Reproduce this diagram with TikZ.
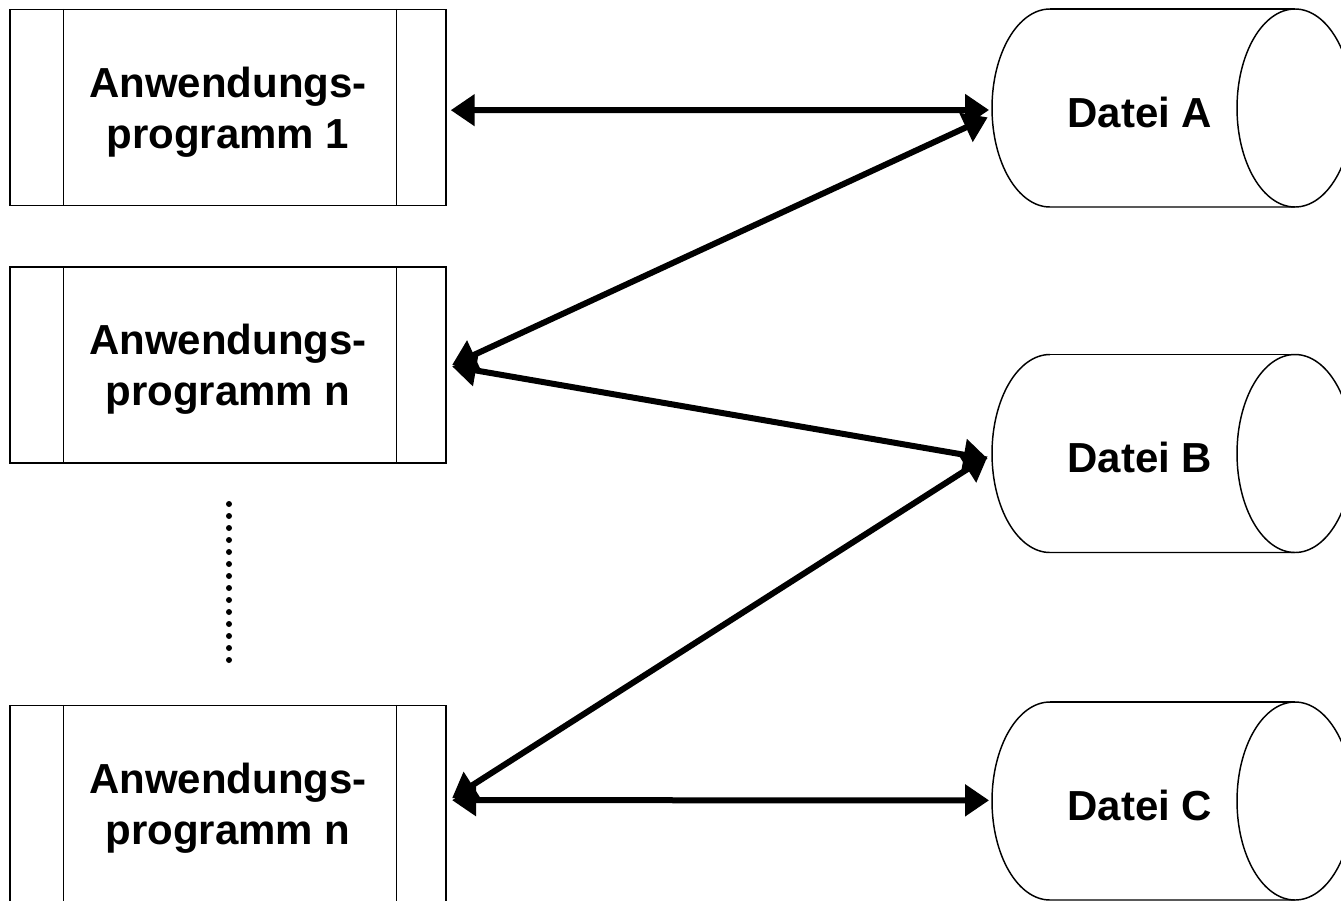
\documentclass[tikz,border=0pt]{standalone}
\usepackage{fontspec}
\setmainfont{Liberation Sans}
\usetikzlibrary{arrows.meta}
\tikzstyle{prog} = [rectangle,draw=black,line width=1.1pt,minimum width=327pt,minimum height=147pt,align=center,text depth=0pt,font=\fontsize{31.5}{38.5}\selectfont\bfseries]
\tikzstyle{datei} = [rectangle,minimum width=222pt,minimum height=148.5pt,text depth=0pt,font=\fontsize{31.5}{38.5}\selectfont\bfseries]
\tikzstyle{zugriff} = [line width=4.5pt,{Triangle[length=18pt,width=23pt]}-{Triangle[length=18pt,width=23pt]}]

\begin{document}
\begin{tikzpicture}[x=0.75pt,y=-0.75pt]
\useasboundingbox (0,0) rectangle (1341,900);

% Define nodes
\node[prog]     (p1) at (228,107.5) {Anwendungs-\\programm 1};
\node[prog]     (pn) at (228,365)   {Anwendungs-\\programm n};
\node[prog]     (pm) at (228,803.5) {Anwendungs-\\programm n};

\node[datei]    (a) at (1140,112)   {Datei A};
\node[datei]    (b) at (1140,457.5) {Datei B};
\node[datei]    (c) at (1140,805)   {Datei C};

% Side bars of the program boxes
\foreach \p in {p1,pn,pm}{
  \draw[line width=1.1pt] ([xshift=40.5pt]\p.north west) -- ([xshift=40.5pt]\p.south west);
  \draw[line width=1.1pt] ([xshift=-37.5pt]\p.north east) -- ([xshift=-37.5pt]\p.south east);
}

% Cylinders round the files
\foreach \d in {a,b,c}{
  \begin{scope}[shift={(\d.center)},line width=1.1pt]
    \draw (-90,-103) arc[start angle=270,end angle=90,x radius=58,y radius=99] -- (155,95);
    \draw (-90,-103) -- (155,-103);
    \draw (155,-4) ellipse[x radius=58,y radius=99];
  \end{scope}
}

\coordinate (dtop) at (229,504);
\coordinate (dbot) at (229,660);
\draw[line width=4.5pt,line cap=round,dash pattern=on 0pt off 9pt] (dtop) -- (dbot);

% Edges
\draw[zugriff] ([xshift=3pt,yshift=-2pt]p1.east) -- ([xshift=-2pt,yshift=1.5pt]a.west);
\draw[zugriff] ([xshift=4pt]pn.east) -- ([xshift=-3pt,yshift=-4pt]a.west);
\draw[zugriff] ([xshift=4pt,yshift=-1pt]pn.east) -- ([xshift=-3pt,yshift=-1pt]b.west);
\draw[zugriff] ([xshift=4pt,yshift=4pt]pm.east) -- ([xshift=-3pt,yshift=1pt]b.west);
\draw[zugriff] ([xshift=4pt,yshift=2.5pt]pm.east) -- ([xshift=-2pt,yshift=3.5pt]c.west);
\end{tikzpicture}
\end{document}
